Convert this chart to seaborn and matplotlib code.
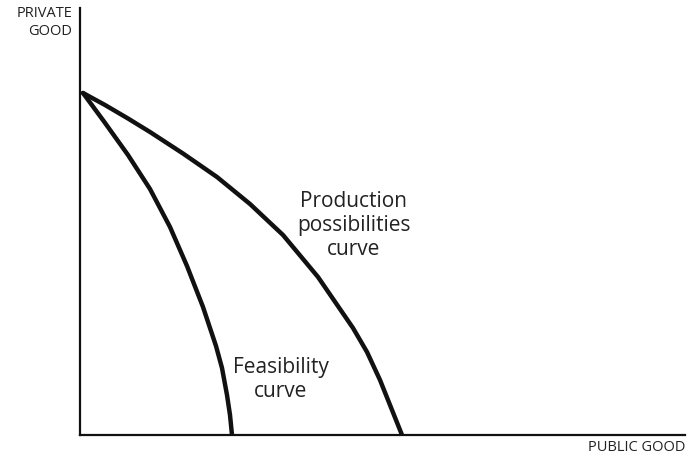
import numpy as np
import pandas as pd
import seaborn as sns
import matplotlib.pyplot as plt

# Curve points (arbitrary units, origin at axes corner)
ppc_x = [0.3, 2.5, 4.8, 7.0, 10.3, 13.7, 17.0, 20.3, 23.8, 27.3, 28.7, 30.0, 31.2, 32.2]
ppc_y = [34.2, 33.0, 31.65, 30.3, 28.15, 25.8, 23.1, 20.0, 15.8, 10.7, 8.3, 5.5, 2.5, 0.0]

feas_x = [0.3, 2.4, 4.8, 7.0, 9.0, 10.7, 12.3, 13.6, 14.2, 14.7, 15.0, 15.2]
feas_y = [34.2, 31.35, 28.0, 24.6, 20.8, 16.9, 12.8, 8.9, 6.7, 4.0, 2.0, 0.0]

x_label = 'PUBLIC GOOD'
y_label = 'PRIVATE\nGOOD'
ppc_label = 'Production\npossibilities\ncurve'
feas_label = 'Feasibility\ncurve'

sns.set_style('white')
plt.rcParams['font.family'] = ['Open Sans', 'DejaVu Sans']

fig = plt.figure(figsize=(6.88, 4.58), dpi=100)
ax = fig.add_axes([80 / 688, 23 / 458, 605 / 688, 427 / 458])

df_ppc = pd.DataFrame({'x': ppc_x, 'y': ppc_y})
df_feas = pd.DataFrame({'x': feas_x, 'y': feas_y})
line_kw = dict(sort=False, color='#111111', lw=3.2, ax=ax)
sns.lineplot(data=df_ppc, x='x', y='y', **line_kw)
sns.lineplot(data=df_feas, x='x', y='y', **line_kw)
for ln in ax.lines:
    ln.set_solid_joinstyle('round')
    ln.set_solid_capstyle('round')

ax.set_xlim(0, 60.5)
ax.set_ylim(0, 42.7)
ax.set_xticks([])
ax.set_yticks([])
ax.set_xlabel('')
ax.set_ylabel('')
for side in ['top', 'right']:
    ax.spines[side].set_visible(False)
for side in ['left', 'bottom']:
    ax.spines[side].set_color('#111111')
    ax.spines[side].set_linewidth(1.6)

ax.text(27.4, 24.4, ppc_label, ha='center', va='top', fontsize=15, linespacing=1.18, color='#222222')
ax.text(20.1, 7.8, feas_label, ha='center', va='top', fontsize=15, linespacing=1.18, color='#222222')

fig.text(72 / 688, 1 - 6 / 458, y_label, ha='right', va='top', fontsize=10.5, linespacing=1.3, color='#222222')
fig.text(685 / 688, 1 - 440 / 458, x_label, ha='right', va='top', fontsize=10.5, color='#222222')

fig.savefig('out.png', dpi=100)
